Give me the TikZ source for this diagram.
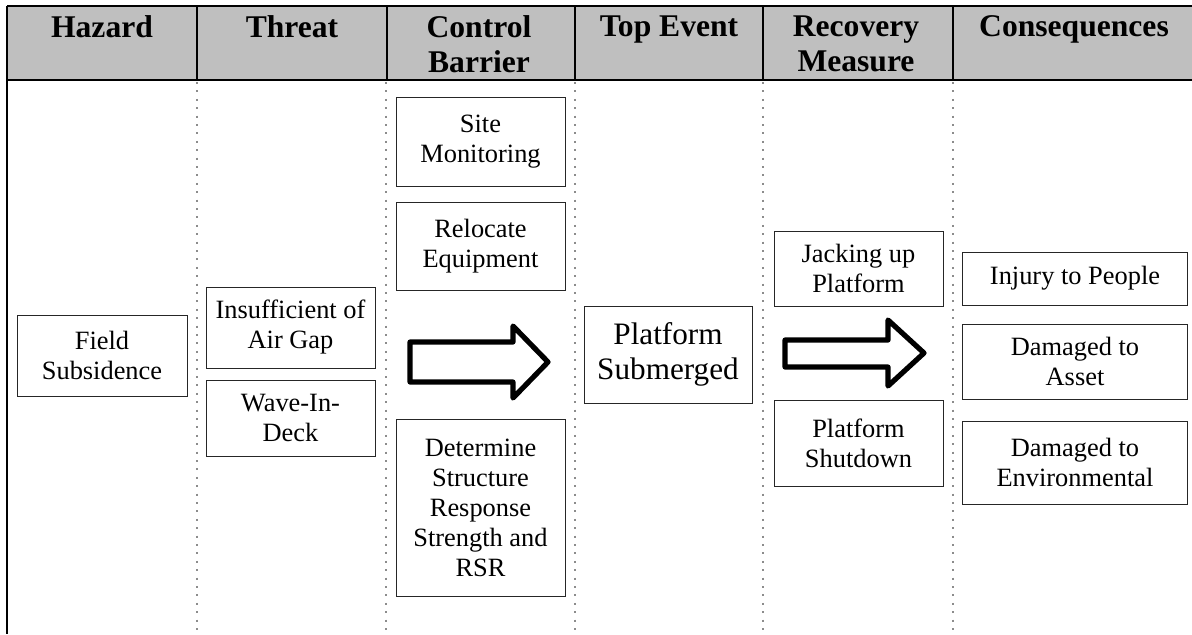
\documentclass[tikz,border=0pt]{standalone}
\usepackage{fontspec}
\setmainfont{Liberation Serif}
\begin{document}
\begin{tikzpicture}[x=0.5pt,y=-0.5pt,
    head/.style={anchor=north,align=center,inner sep=0pt,
      font=\fontsize{15.8}{17.5}\selectfont\bfseries},
    box/.style={draw=black!85,line width=0.5pt,align=center,inner sep=0pt,
      minimum width=84.5pt,font=\fontsize{13.2}{15}\selectfont},
    sep/.style={draw=black!45,line width=1pt,dash pattern=on 1pt off 3.2pt},
    rule/.style={line width=1.1pt},
    bigarrow/.style={line width=2.6pt,line join=round}]
  \useasboundingbox (0,0) rectangle (1192,634);
  % header band
  \fill[black!25] (7,6) rectangle (1192,80);
  \draw[rule] (7,6) -- (1192,6);
  \draw[rule] (7,80) -- (1192,80);
  \draw[rule] (7,6) -- (7,634);
  \foreach \x in {197,387,575,763,953}
    \draw[rule] (\x,6) -- (\x,80);
  \foreach \x in {197,386,575,763,953}
    \draw[sep] (\x,82) -- (\x,634);
  \node[head] (hazard) at (102,15) {Hazard};
  \node[head] (threat) at (292,15) {Threat};
  \node[head] (control) at (479,15) {Control\\Barrier};
  \node[head] (top) at (669,15) {Top Event};
  \node[head] (recovery) at (856,15) {Recovery\\Measure};
  \node[head] (conseq) at (1074,15) {Consequences};
  % hazard and threats
  \node[box,minimum width=85pt,minimum height=40.5pt] (field) at (102,355.5) {Field\\Subsidence};
  \node[box,minimum height=40.5pt] (airgap) at (290.5,327.5) {Insufficient of\\Air Gap};
  \node[box,minimum height=38pt] (wave) at (290.5,418) {Wave-In-\\Deck};
  % control barriers
  \node[box,minimum height=44.5pt] (site) at (480.5,141.5) {Site\\Monitoring};
  \node[box,minimum height=44pt] (relocate) at (480.5,246) {Relocate\\Equipment};
  \node[box,minimum height=88.5pt] (determine) at (480.5,507.5)
    {Determine\\Structure\\Response\\Strength and\\RSR};
  \draw[bigarrow] (410,342) -- (513,342) -- (513,326) -- (548,362)
    -- (513,398) -- (513,382) -- (410,382) -- cycle;
  % top event
  \node[box,minimum width=84pt,minimum height=48.5pt,
    font=\fontsize{15.6}{17.5}\selectfont] (submerged) at (668,354.5) {Platform\\Submerged};
  % recovery measures
  \node[box,minimum height=37.5pt] (jacking) at (858.5,268.5) {Jacking up\\Platform};
  \node[box,minimum height=43pt] (shutdown) at (858.5,443) {Platform\\Shutdown};
  \draw[bigarrow] (785,340) -- (888,340) -- (888,320) -- (924,353)
    -- (888,386) -- (888,367) -- (785,367) -- cycle;
  % consequences
  \node[box,minimum width=112.5pt,minimum height=26.5pt] (injury) at (1075,278.5) {Injury to People};
  \node[box,minimum width=112.5pt,minimum height=37.5pt] (asset) at (1075,361.5) {Damaged to\\Asset};
  \node[box,minimum width=112.5pt,minimum height=41.5pt] (environ) at (1075,462.5) {Damaged to\\Environmental};
\end{tikzpicture}
\end{document}
